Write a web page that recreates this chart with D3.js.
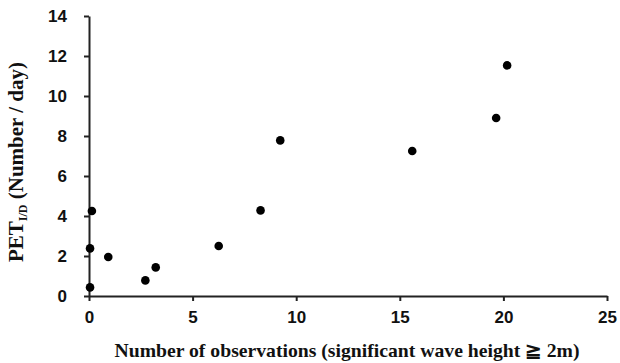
<!DOCTYPE html>
<html><head><meta charset="utf-8">
<script src="https://cdn.jsdelivr.net/npm/d3@7"></script>
<style>body{margin:0;background:#fff}svg{display:block}</style>
</head><body>
<svg id="c" width="620" height="363"></svg>
<script>
const xVals = [0.14, 0.05, 0.05, 0.93, 2.72, 3.22, 6.26, 8.28, 9.23, 15.6, 19.65, 20.18];
const yVals = [4.25, 2.38, 0.43, 1.95, 0.78, 1.43, 2.5, 4.28, 7.78, 7.25, 8.9, 11.53];
const xTicks = [0, 5, 10, 15, 20, 25];
const yTicks = [0, 2, 4, 6, 8, 10, 12, 14];
const xTitle = "Number of observations (significant wave height \u2267 2m)";

const svg = d3.select("#c");
const x = d3.scaleLinear().domain([0, 25]).range([89, 607]);
const y = d3.scaleLinear().domain([0, 14]).range([296, 16]);

const xa = svg.append("g").attr("transform", "translate(0,296)")
  .call(d3.axisBottom(x).tickValues(xTicks).tickSize(5).tickSizeOuter(0).tickPadding(10));
const ya = svg.append("g").attr("transform", "translate(89,0)")
  .call(d3.axisLeft(y).tickValues(yTicks).tickSize(5).tickSizeOuter(0).tickPadding(17));
[xa, ya].forEach(a => {
  a.select(".domain").attr("stroke", "#222").attr("stroke-width", 2);
  a.selectAll(".tick line").attr("stroke", "#222").attr("stroke-width", 2);
  a.selectAll(".tick text").attr("fill", "#111")
    .style("font-family", "Liberation Sans, Arial, sans-serif")
    .style("font-weight", "bold").style("font-size", "17px");
});

svg.append("g").selectAll("circle").data(xVals).join("circle")
  .attr("cx", (d) => x(d)).attr("cy", (d, i) => y(yVals[i])).attr("r", 4.3).attr("fill", "#000");

svg.append("text").attr("x", 347).attr("y", 357).attr("text-anchor", "middle")
  .attr("textLength", 465).attr("lengthAdjust", "spacingAndGlyphs")
  .style("font-family", "Liberation Serif, Times New Roman, serif").style("font-weight", "bold")
  .style("font-size", "19px").attr("fill", "#111").text(xTitle);

const yt = svg.append("text").attr("transform", "translate(23,162) rotate(-90)").attr("text-anchor", "middle")
  .style("font-family", "Liberation Serif, Times New Roman, serif").style("font-weight", "bold")
  .style("font-size", "21px").attr("fill", "#111");
yt.append("tspan").text("PET");
yt.append("tspan").attr("dy", 4).style("font-size", "12px").text("I/D");
yt.append("tspan").attr("dy", -4).text("  (Number / day)");
</script>
</body></html>
